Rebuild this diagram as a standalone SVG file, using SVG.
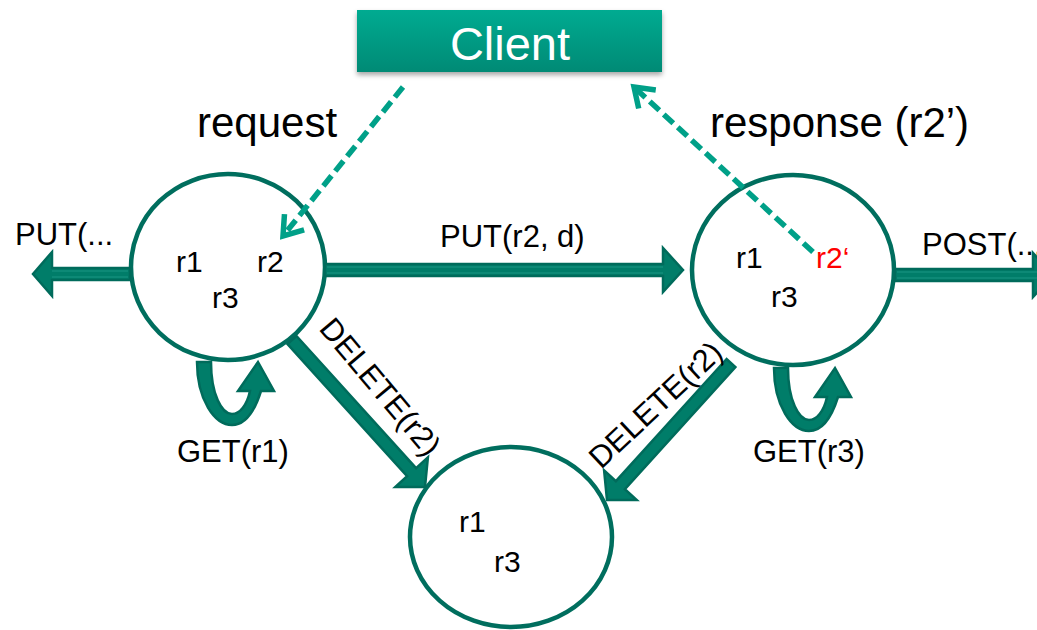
<svg xmlns="http://www.w3.org/2000/svg" width="1037" height="630" viewBox="0 0 1037 630">
  <style>
    text { font-family: "Liberation Sans", Arial, sans-serif; fill: #000; }
    .state { fill: #fff; stroke: #006e5e; stroke-width: 4.5; }
    .res { font-size: 30px; }
    .lbl { font-size: 31px; }
    .big { font-size: 42px; }
    .block { fill: #007d69; stroke: #006b5b; stroke-width: 2.5; stroke-linejoin: miter; }
    .shine { fill: none; stroke: #1a9683; stroke-width: 1.2; }
    .dash { fill: none; stroke: #00a088; stroke-width: 5.5; stroke-dasharray: 13 6; }
    .chev { fill: none; stroke: #00a088; stroke-width: 5.5; stroke-linejoin: miter; }
  </style>
  <defs>
    <linearGradient id="clientFill" x1="0" y1="0" x2="0" y2="1">
      <stop offset="0" stop-color="#00ab91"/>
      <stop offset="1" stop-color="#008a75"/>
    </linearGradient>
    <filter id="shadow" x="-10%" y="-20%" width="120%" height="160%">
      <feDropShadow dx="0" dy="3" stdDeviation="2.5" flood-color="#000" flood-opacity="0.35"/>
    </filter>
    <marker id="chevron" markerUnits="userSpaceOnUse" markerWidth="40" markerHeight="40" viewBox="-30 -20 40 40" refX="0" refY="0" orient="auto" overflow="visible">
      <path class="chev" d="M-18,-12.6 L0,0 L-18,12.6"/>
    </marker>
    <!-- U-turn block arrow used for the GET self-loops -->
    <path id="loop" class="block" d="M197,362 C197,400 215,425 232,425 C246,425 255,410 261,391 L274,391 L258,362 L238,391 L250,391 C247,405 240,414 232,414 C222,414 211,395 211,362 Z"/>
  </defs>

  <!-- Client -->
  <g id="client">
    <rect x="357" y="10" width="305" height="62" fill="url(#clientFill)" filter="url(#shadow)"/>
    <text x="510" y="60" font-size="47" text-anchor="middle" style="fill:#fff">Client</text>
  </g>

  <!-- state before the update -->
  <g id="state-left">
    <ellipse class="state" cx="228" cy="267" rx="97" ry="93"/>
    <text class="res" x="176" y="272">r1</text>
    <text class="res" x="257" y="272">r2</text>
    <text class="res" x="212" y="308">r3</text>
  </g>

  <!-- state after the update -->
  <g id="state-right">
    <ellipse class="state" cx="793" cy="270" rx="101" ry="95"/>
    <text class="res" x="736" y="268">r1</text>
    <text class="res" x="816" y="268" style="fill:#ff0000">r2‘</text>
    <text class="res" x="771" y="307">r3</text>
  </g>

  <!-- state after the delete -->
  <g id="state-bottom">
    <ellipse class="state" cx="511" cy="537" rx="101" ry="90"/>
    <text class="res" x="459" y="532">r1</text>
    <text class="res" x="494" y="572">r3</text>
  </g>

  <!-- transitions -->
  <g id="connectors">
    <!-- PUT(... leaving to the left -->
    <polygon class="block" points="130,268 52,268 52,252 33,274 52,296 52,280 130,280"/>
    <!-- PUT(r2, d) -->
    <polygon class="block" points="325,264 663,264 663,248 683,270 663,292 663,276 325,276"/>
    <!-- POST(... leaving to the right -->
    <polygon class="block" points="895,269 1033,269 1033,253 1053,275 1033,297 1033,281 895,281"/>
    <!-- DELETE(r2) from the left state -->
    <polygon class="block" points="296.5,336 416.1,468.2 427.9,457.4 425,487 395.3,487 407.1,476.2 287.5,344"/>
    <!-- DELETE(r2) from the right state -->
    <polygon class="block" points="726.6,359 615.9,481.2 604.1,470.4 607,500 636.7,500 624.9,489.2 735.4,367"/>
    <!-- thin highlights inside the straight shafts -->
    <path class="shine" d="M128,271 H52 M128,277 H52 M327,267 H663 M327,273 H663 M897,272 H1037 M897,278 H1037"/>
    <!-- GET self-loops -->
    <use href="#loop"/>
    <use href="#loop" transform="translate(577,6)"/>
    <!-- request / response -->
    <line class="dash" x1="403" y1="87" x2="283" y2="236" marker-end="url(#chevron)"/>
    <line class="dash" x1="813" y1="252" x2="634" y2="87" marker-end="url(#chevron)"/>

    <text class="big" x="197" y="137">request</text>
    <text class="big" x="710" y="137">response (r2’)</text>
    <text class="lbl" x="15" y="245">PUT(...</text>
    <text class="lbl" x="440" y="247">PUT(r2, d)</text>
    <text class="lbl" x="922" y="255">POST(...</text>
    <text class="lbl" x="177" y="462">GET(r1)</text>
    <text class="lbl" x="753" y="462">GET(r3)</text>
    <text class="lbl" transform="translate(318,329) rotate(50)">DELETE(r2)</text>
    <text class="lbl" transform="translate(601,470) rotate(-43)">DELETE(r2)</text>
  </g>
</svg>
